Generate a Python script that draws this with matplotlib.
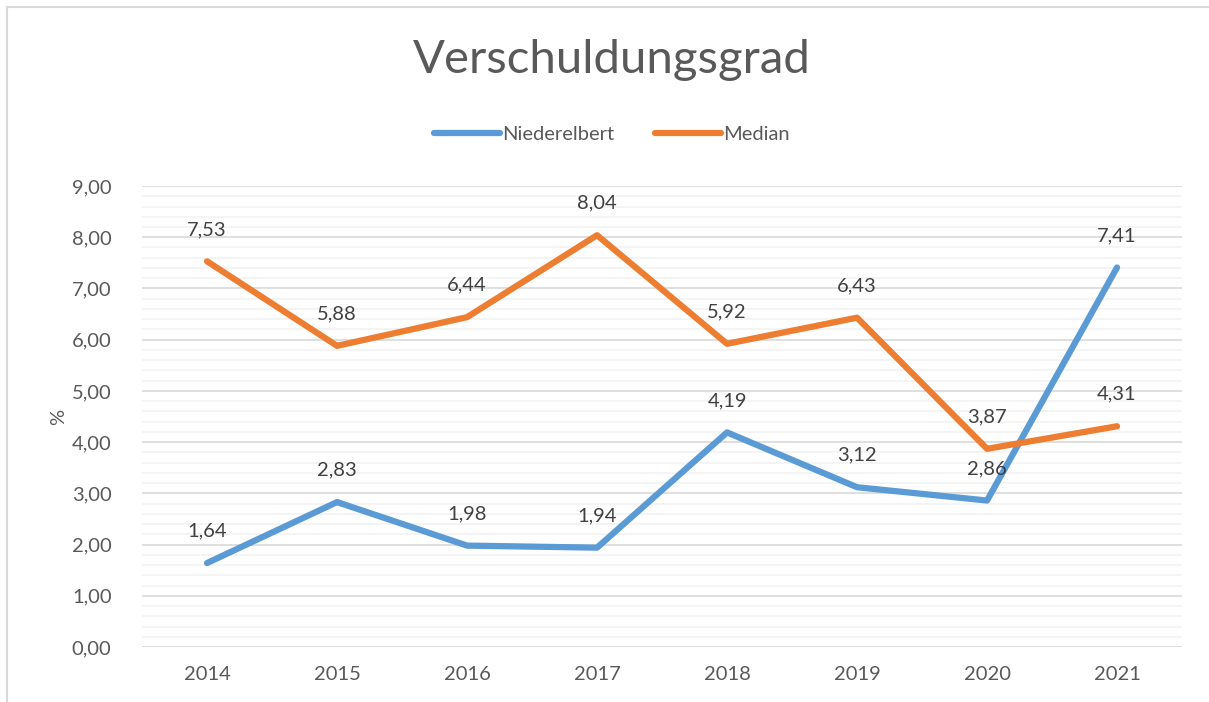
import matplotlib.pyplot as plt
from matplotlib.lines import Line2D
from matplotlib.ticker import MultipleLocator

plt.rcParams['font.family'] = ['Lato', 'DejaVu Sans']

years = ['2014', '2015', '2016', '2017', '2018', '2019', '2020', '2021']
niederelbert = [1.64, 2.83, 1.98, 1.94, 4.19, 3.12, 2.86, 7.41]
median = [7.53, 5.88, 6.44, 8.04, 5.92, 6.43, 3.87, 4.31]

blue = '#5B9BD5'
orange = '#ED7D31'

fig = plt.figure(figsize=(12.09, 7.02), dpi=100)
ax = fig.add_axes([0.1175, 0.0783, 0.8602, 0.6567])

x = list(range(len(years)))
ax.plot(x, niederelbert, color=blue, lw=4.5, solid_capstyle='round',
        solid_joinstyle='round', label='Niederelbert', zorder=3)
ax.plot(x, median, color=orange, lw=4.5, solid_capstyle='round',
        solid_joinstyle='round', label='Median', zorder=3)

for series in (niederelbert, median):
    for xi, v in zip(x, series):
        ax.annotate(f'{v:.2f}'.replace('.', ','), (xi, v), xytext=(0, 23),
                    textcoords='offset points', ha='center', va='center',
                    fontsize=14.5, color='#404040')

ax.set_xlim(-0.5, len(years) - 0.5)
ax.set_ylim(0, 9)
ax.set_xticks(x)
ax.set_xticklabels(years)
ax.yaxis.set_major_locator(MultipleLocator(1))
ax.yaxis.set_minor_locator(MultipleLocator(0.2))
ax.yaxis.set_major_formatter(lambda v, p: f'{v:.2f}'.replace('.', ','))
ax.grid(axis='y', which='major', color='#D9D9D9', lw=1.2)
ax.grid(axis='y', which='minor', color='#F2F2F2', lw=1.2)
ax.set_axisbelow(True)
for s in ax.spines.values():
    s.set_visible(False)
ax.tick_params(axis='both', which='both', length=0, labelsize=14.5, labelcolor='#595959')
ax.tick_params(axis='y', pad=22)
ax.tick_params(axis='x', pad=14)
ax.set_ylabel('%', fontsize=14.5, color='#595959', labelpad=3)

fig.text(0.506, 0.915, 'Verschuldungsgrad', ha='center', va='center',
         fontsize=34, color='#595959')
fig.legend(loc='center', bbox_to_anchor=(0.506, 0.809), ncol=2, frameon=False,
           fontsize=14.5, labelcolor='#595959', handlelength=3.3, handletextpad=0.1,
           columnspacing=2.0)

# outer chart frame (only left and top edges visible in the crop)
fig.add_artist(Line2D([0.0058, 0.0058], [0.0, 0.99], transform=fig.transFigure,
                      color='#D9D9D9', lw=1.5))
fig.add_artist(Line2D([0.0058, 1.0], [0.99, 0.99], transform=fig.transFigure,
                      color='#D9D9D9', lw=1.5))

fig.savefig('out.png', dpi=100)
